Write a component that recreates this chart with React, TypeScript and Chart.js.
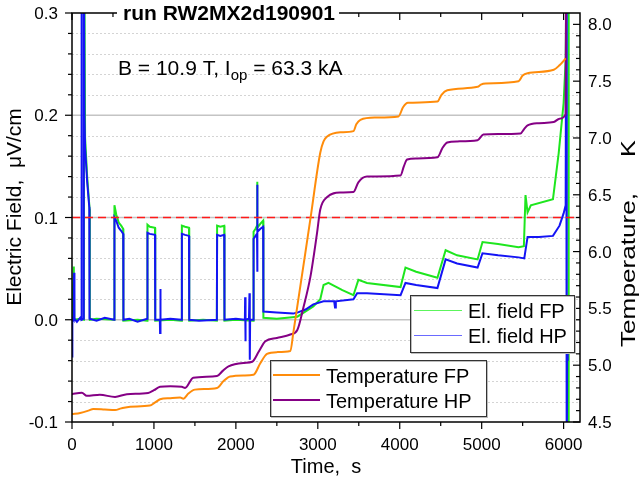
import React, { useEffect, useRef } from "react";
import { Chart, registerables } from "chart.js";
Chart.register(...registerables);

const FONT = '"Liberation Sans", Arial, Helvetica, sans-serif';

// ---------- data ----------
const tempFPTime = [0, 100, 200, 260, 400, 525, 600, 710, 950, 1010, 1075, 1200, 1320, 1360, 1420, 1500, 1770, 1850, 1930, 2100, 2215, 2300, 2380, 2500, 2665, 2700, 2910, 3030, 3070, 3110, 3275, 3435, 3470, 3520, 3700, 3985, 4040, 4100, 4460, 4510, 4580, 4950, 4990, 5050, 5450, 5500, 5560, 5880, 5950, 6025];
const tempFPValue = [4.57, 4.58, 4.6, 4.615, 4.61, 4.605, 4.62, 4.635, 4.645, 4.67, 4.7, 4.71, 4.715, 4.705, 4.75, 4.785, 4.8, 4.86, 4.9, 4.91, 4.915, 5.02, 5.1, 5.115, 5.125, 5.28, 6.29, 6.87, 6.97, 7.01, 7.05, 7.06, 7.12, 7.16, 7.18, 7.19, 7.27, 7.31, 7.32, 7.38, 7.42, 7.45, 7.47, 7.48, 7.5, 7.55, 7.57, 7.6, 7.64, 7.7];

const tempHPTime = [0, 120, 180, 340, 525, 670, 930, 1000, 1075, 1200, 1340, 1380, 1480, 1770, 1840, 1910, 2100, 2200, 2280, 2360, 2500, 2665, 2750, 2825, 2910, 2990, 3030, 3115, 3275, 3435, 3495, 3600, 4010, 4050, 4090, 4200, 4460, 4520, 4580, 4700, 4950, 5020, 5200, 5475, 5520, 5560, 5700, 5880, 5950, 6025, 6030];
const tempHPValue = [4.745, 4.758, 4.73, 4.74, 4.72, 4.745, 4.755, 4.78, 4.81, 4.815, 4.81, 4.8, 4.89, 4.905, 4.95, 4.99, 5.02, 5.03, 5.12, 5.21, 5.24, 5.27, 5.31, 5.51, 5.78, 6.16, 6.37, 6.48, 6.52, 6.525, 6.61, 6.66, 6.67, 6.75, 6.81, 6.82, 6.83, 6.91, 6.96, 6.97, 6.98, 7.03, 7.035, 7.04, 7.08, 7.11, 7.13, 7.14, 7.17, 7.21, 8.5];

const fieldHPTime = [0, 3, 6, 20, 25, 30, 60, 100, 113, 116, 119, 140, 144, 152, 160, 185, 211, 214, 300, 400, 515, 518, 540, 570, 600, 625, 628, 700, 800, 918, 921, 950, 1013, 1016, 1072, 1075, 1078, 1082, 1200, 1338, 1341, 1380, 1428, 1431, 1550, 1768, 1771, 1810, 1858, 1861, 2000, 2110, 2113, 2116, 2120, 2160, 2166, 2170, 2174, 2213, 2216, 2240, 2258, 2260, 2262, 2265, 2300, 2333, 2336, 2500, 2700, 2750, 2850, 2945, 3070, 3200, 3210, 3220, 3435, 3480, 3600, 4010, 4070, 4200, 4460, 4560, 4700, 4950, 5010, 5200, 5450, 5520, 5560, 5700, 5870, 5950, 6000, 6025, 6032, 6038, 6044, 6050];
const fieldHPValue = [0.003, -0.037, 0.002, 0.0, 0.046, 0.001, -0.002, 0.002, 0.0, 0.4, 0.0, 0.001, 0.4, 0.2, 0.168, 0.135, 0.11, 0.001, -0.001, 0.002, 0.0, 0.1, 0.097, 0.09, 0.087, 0.084, 0.0, 0.001, -0.002, 0.001, 0.085, 0.084, 0.083, 0.0, 0.0, -0.013, 0.03, 0.0, 0.001, 0.0, 0.084, 0.083, 0.082, 0.0, -0.001, 0.0, 0.083, 0.082, 0.083, 0.0, 0.001, 0.0, 0.022, -0.021, 0.0, 0.001, 0.026, -0.039, 0.0, 0.0, 0.079, 0.082, 0.084, 0.132, 0.047, 0.086, 0.089, 0.091, 0.008, 0.007, 0.006, 0.007, 0.01, 0.015, 0.018, 0.018, 0.012, 0.018, 0.02, 0.026, 0.026, 0.024, 0.036, 0.034, 0.031, 0.059, 0.055, 0.051, 0.065, 0.063, 0.061, 0.06, 0.081, 0.081, 0.082, 0.092, 0.104, 0.112, 0.4, -0.2, 0.01, -0.04];

const fieldFPTime = [0, 10, 22, 28, 100, 145, 148, 160, 185, 215, 218, 300, 515, 518, 540, 570, 600, 624, 627, 800, 918, 921, 950, 1013, 1016, 1200, 1338, 1341, 1380, 1428, 1431, 1600, 1768, 1771, 1810, 1858, 1861, 2000, 2213, 2216, 2240, 2258, 2260, 2263, 2300, 2333, 2336, 2500, 2750, 2945, 3030, 3070, 3130, 3300, 3435, 3495, 3600, 4010, 4070, 4200, 4460, 4560, 4700, 4950, 5010, 5200, 5450, 5515, 5535, 5560, 5600, 5870, 5940, 6000, 6025, 6040, 6058, 6062];
const fieldFPValue = [0.0, 0.0, 0.052, 0.0, 0.001, 0.0, 0.4, 0.178, 0.14, 0.108, 0.0, 0.001, 0.0, 0.112, 0.103, 0.095, 0.092, 0.089, -0.001, 0.0, -0.001, 0.093, 0.091, 0.09, -0.001, 0.0, -0.001, 0.092, 0.091, 0.09, -0.001, 0.0, -0.001, 0.092, 0.091, 0.092, -0.001, 0.0, -0.001, 0.086, 0.089, 0.092, 0.135, 0.09, 0.094, 0.097, 0.002, 0.001, 0.003, 0.013, 0.02, 0.034, 0.036, 0.029, 0.024, 0.039, 0.036, 0.032, 0.051, 0.047, 0.041, 0.068, 0.063, 0.059, 0.076, 0.074, 0.071, 0.072, 0.122, 0.105, 0.112, 0.118, 0.163, 0.212, 0.254, 0.4, 0.4, -0.2];

const thresholdTime = [0, 6200];
const thresholdValue = [0.1, 0.1];

const xTicks = [0, 1000, 2000, 3000, 4000, 5000, 6000];
const leftTicks = [-0.1, 0.0, 0.1, 0.2, 0.3];
const rightTicks = [4.5, 5.0, 5.5, 6.0, 6.5, 7.0, 7.5, 8.0];

const titleText = "run RW2MX2d190901";
const xTitle = "Time,  s";
const leftTitle = "Electric Field,  \u03BCV/cm";
const rightTitleMain = "Temperature,";
const rightTitleUnit = "K";
const legendField = ["El. field FP", "El. field HP"];
const legendTemp = ["Temperature FP", "Temperature HP"];

const C_GREEN = "#1ee61e";
const C_BLUE = "#1414f5";
const C_ORANGE = "#ff8c0a";
const C_PURPLE = "#850085";

const pts = (t: number[], v: number[]) => t.map((x, i) => ({ x, y: v[i] }));

const decor = {
  id: "decor",
  beforeDraw(chart: any) {
    const ctx = chart.ctx;
    ctx.save();
    ctx.fillStyle = "#ffffff";
    ctx.fillRect(0, 0, chart.width, chart.height);
    ctx.restore();
  },
  beforeDatasetsDraw(chart: any) {
    const { ctx, chartArea: ca, scales } = chart;
    const y = scales.y;
    ctx.save();
    const step = (leftTicks[1] - leftTicks[0]) / 5;
    ctx.strokeStyle = "#d4d4d4";
    ctx.lineWidth = 1;
    ctx.setLineDash([2, 2]);
    for (let i = 0; i < leftTicks.length - 1; i++) {
      for (let k = 1; k < 5; k++) {
        const py = Math.round(y.getPixelForValue(leftTicks[i] + k * step)) + 0.5;
        ctx.beginPath();
        ctx.moveTo(ca.left, py);
        ctx.lineTo(ca.right, py);
        ctx.stroke();
      }
    }
    ctx.setLineDash([]);
    ctx.strokeStyle = "#c4c4c4";
    ctx.lineWidth = 1.5;
    for (let i = 1; i < leftTicks.length - 1; i++) {
      const py = y.getPixelForValue(leftTicks[i]);
      ctx.beginPath();
      ctx.moveTo(ca.left, py);
      ctx.lineTo(ca.right, py);
      ctx.stroke();
    }
    ctx.restore();
  },
  afterDatasetsDraw(chart: any) {
    const { ctx, chartArea: ca, scales } = chart;
    const x = scales.x, y = scales.y, y2 = scales.y2;
    ctx.save();
    ctx.strokeStyle = "#000";
    ctx.lineWidth = 1.5;
    ctx.strokeRect(ca.left, ca.top, ca.right - ca.left, ca.bottom - ca.top);
    ctx.lineWidth = 1.2;
    const line = (x1: number, y1: number, x2: number, y2_: number) => {
      ctx.beginPath(); ctx.moveTo(x1, y1); ctx.lineTo(x2, y2_); ctx.stroke();
    };
    const xs = xTicks[1] - xTicks[0];
    for (let i = 0; i < xTicks.length; i++) {
      const px = x.getPixelForValue(xTicks[i]);
      line(px, ca.bottom, px, ca.bottom + 7);
      line(px, ca.top, px, ca.top + 7);
      const mv = xTicks[i] + xs / 2;
      if (mv < x.max) {
        const pm = x.getPixelForValue(mv);
        line(pm, ca.bottom, pm, ca.bottom + 4);
        line(pm, ca.top, pm, ca.top + 4);
      }
    }
    const ls = (leftTicks[1] - leftTicks[0]) / 5;
    for (let i = 0; i < leftTicks.length; i++) {
      const py = y.getPixelForValue(leftTicks[i]);
      line(ca.left - 7, py, ca.left, py);
      if (i < leftTicks.length - 1) {
        for (let k = 1; k < 5; k++) {
          const pm = y.getPixelForValue(leftTicks[i] + k * ls);
          line(ca.left - 4, pm, ca.left, pm);
        }
      }
    }
    const rs = (rightTicks[1] - rightTicks[0]) / 5;
    for (let i = 0; i < rightTicks.length; i++) {
      const py = y2.getPixelForValue(rightTicks[i]);
      line(ca.right - 7, py, ca.right, py);
      for (let k = 1; k < 5; k++) {
        const v = rightTicks[i] + k * rs;
        if (v < y2.max) {
          const pm = y2.getPixelForValue(v);
          line(ca.right - 4, pm, ca.right, pm);
        }
      }
    }
    ctx.fillStyle = "#000";
    ctx.font = `17px ${FONT}`;
    ctx.textBaseline = "alphabetic";
    ctx.textAlign = "center";
    for (const v of xTicks) ctx.fillText(String(v), x.getPixelForValue(v), ca.bottom + 28);
    ctx.textAlign = "right";
    for (const v of leftTicks) ctx.fillText(v.toFixed(1), ca.left - 14, y.getPixelForValue(v) + 6);
    ctx.textAlign = "left";
    for (const v of rightTicks) ctx.fillText(v.toFixed(1), ca.right + 8, y2.getPixelForValue(v) + 6);

    // axis titles
    ctx.font = `20px ${FONT}`;
    ctx.textAlign = "center";
    ctx.fillText(xTitle, 326, 473);
    ctx.save();
    ctx.translate(15, 207);
    ctx.rotate(-Math.PI / 2);
    ctx.textBaseline = "middle";
    ctx.font = `21px ${FONT}`;
    ctx.fillText(leftTitle, 0, 0);
    ctx.restore();
    // right title: "Temperature," spanning y 347..193, unit "K" near y 155
    ctx.save();
    ctx.font = `21px ${FONT}`;
    const rw = ctx.measureText(rightTitleMain).width;
    ctx.translate(629, 347);
    ctx.rotate(-Math.PI / 2);
    ctx.scale(154 / rw, 1);
    ctx.textBaseline = "middle";
    ctx.textAlign = "left";
    ctx.fillText(rightTitleMain, 0, 0);
    ctx.restore();
    ctx.save();
    ctx.font = `21px ${FONT}`;
    ctx.translate(629, 157);
    ctx.rotate(-Math.PI / 2);
    ctx.scale(1.2, 1);
    ctx.textBaseline = "middle";
    ctx.textAlign = "left";
    ctx.fillText(rightTitleUnit, 0, 0);
    ctx.restore();

    // title with white background over top axis
    ctx.font = `bold 21px ${FONT}`;
    ctx.textAlign = "left";
    const tw = ctx.measureText(titleText).width;
    const tx = 123;
    ctx.fillStyle = "#fff";
    ctx.fillRect(tx - 6, 2, tw + 10, 22);
    ctx.fillStyle = "#000";
    ctx.fillText(titleText, tx, 20);

    // annotation
    let ax = 118;
    ctx.font = `21px ${FONT}`;
    const a1 = "B = 10.9 T, I";
    ctx.fillText(a1, ax, 75);
    ax += ctx.measureText(a1).width;
    ctx.font = `15px ${FONT}`;
    ctx.fillText("op", ax, 80);
    ax += ctx.measureText("op").width;
    ctx.font = `21px ${FONT}`;
    ctx.fillText(" = 63.3 kA", ax, 75);

    // legends
    const box = (bx: number, by: number, bw: number, bh: number) => {
      ctx.fillStyle = "#fff";
      ctx.fillRect(bx, by, bw, bh);
      ctx.strokeStyle = "#bdbdbd";
      ctx.lineWidth = 1;
      ctx.strokeRect(bx + 1.5, by + 1.5, bw, bh);
      ctx.strokeStyle = "#333";
      ctx.strokeRect(bx + 0.5, by + 0.5, bw, bh);
    };
    box(410, 295, 164, 57);
    ctx.lineWidth = 1;
    ctx.strokeStyle = "#5cf55c";
    line(414, 310.5, 462, 310.5);
    ctx.strokeStyle = "#6a6aff";
    line(414, 335.5, 462, 335.5);
    ctx.fillStyle = "#000";
    ctx.font = `20px ${FONT}`;
    ctx.fillText(legendField[0], 468, 318);
    ctx.fillText(legendField[1], 468, 343);

    box(270, 360, 216, 56);
    ctx.lineWidth = 2;
    ctx.strokeStyle = C_ORANGE;
    line(273, 375, 320, 375);
    ctx.strokeStyle = C_PURPLE;
    line(273, 400, 320, 400);
    ctx.fillStyle = "#000";
    ctx.font = `20px ${FONT}`;
    ctx.fillText(legendTemp[0], 326, 383);
    ctx.fillText(legendTemp[1], 326, 408);
    ctx.restore();
  },
};

export default function App() {
  const ref = useRef<HTMLCanvasElement>(null);
  useEffect(() => {
    if (!ref.current) return;
    const chart = new Chart(ref.current, {
      type: "line",
      data: {
        datasets: [
          {
            label: legendTemp[0], data: pts(tempFPTime, tempFPValue), yAxisID: "y2",
            borderColor: C_ORANGE, borderWidth: 2, pointRadius: 0, cubicInterpolationMode: "monotone", order: 0,
          },
          {
            label: legendTemp[1], data: pts(tempHPTime, tempHPValue), yAxisID: "y2",
            borderColor: C_PURPLE, borderWidth: 2, pointRadius: 0, cubicInterpolationMode: "monotone", order: 1,
          },
          {
            label: "threshold", data: pts(thresholdTime, thresholdValue), yAxisID: "y",
            borderColor: "#ff1a1a", borderWidth: 1.5, borderDash: [8, 5], pointRadius: 0, order: 2,
          },
          {
            label: legendField[1], data: pts(fieldHPTime, fieldHPValue), yAxisID: "y",
            borderColor: C_BLUE, borderWidth: 2, pointRadius: 0, tension: 0, order: 3,
          },
          {
            label: legendField[0], data: pts(fieldFPTime, fieldFPValue), yAxisID: "y",
            borderColor: C_GREEN, borderWidth: 2, pointRadius: 0, tension: 0, order: 4,
          },
        ],
      },
      options: {
        animation: false,
        responsive: false,
        events: [],
        layout: { padding: { left: 72, right: 59, top: 13, bottom: 59 } },
        scales: {
          x: { type: "linear", min: 0, max: 6200, display: false },
          y: { type: "linear", min: -0.1, max: 0.3, display: false },
          y2: { type: "linear", position: "right", min: 4.5, max: 8.1, display: false },
        },
        plugins: { legend: { display: false }, tooltip: { enabled: false }, title: { display: false } },
      },
      plugins: [decor],
    } as any);
    return () => chart.destroy();
  }, []);
  return (
    <div style={{ position: "absolute", left: 0, top: 0, width: 639, height: 481 }}>
      <canvas ref={ref} width={639} height={481} style={{ display: "block" }} />
    </div>
  );
}
